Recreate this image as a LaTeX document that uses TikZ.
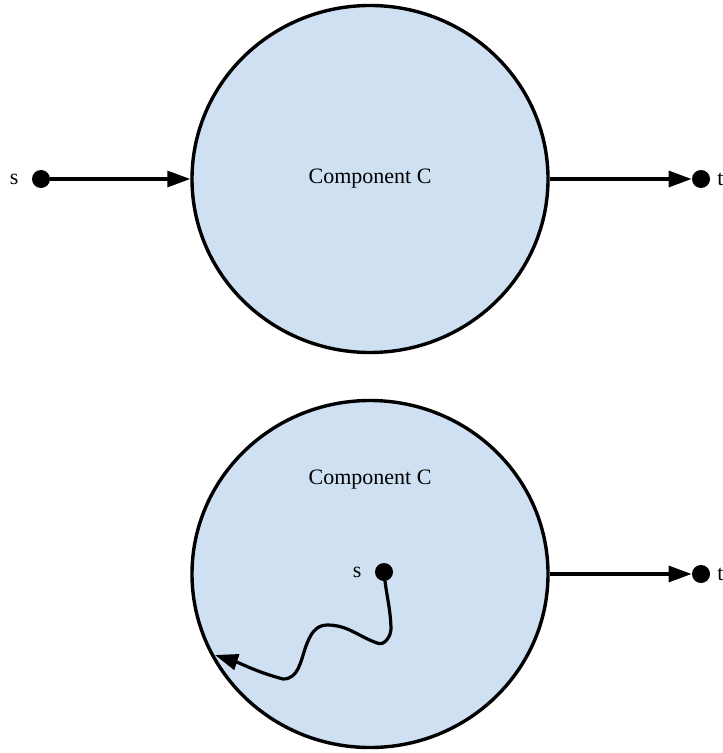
\documentclass[tikz,border=0pt]{standalone}
\usepackage{fontspec}
\setmainfont{Liberation Serif}
\usepackage{tikz}
\usetikzlibrary{arrows.meta, positioning, shapes.geometric}
\usepackage{xcolor}
\definecolor{compblue}{RGB}{206,224,242}
\tikzset{%
	comp/.style={
		ellipse,
		draw,
		line width=1.7pt,
		fill=compblue,
		inner sep=0pt,
		minimum width=178pt,
		minimum height=173.5pt
	},
	dot/.style={
		circle,
		fill=black,
		inner sep=0pt,
		minimum size=9pt
	},
	flow/.style={
		line width=1.6pt,
		-{Triangle[length=11.5pt,width=8pt]}
	},
}

\begin{document}
\begin{tikzpicture}[x=0.5pt,y=-0.5pt,font=\fontsize{11}{13}\selectfont]
			\useasboundingbox (0,0) rectangle (722,753);

			% Draw the first component
			\node[comp] (C1) at (370,179) {Component C};
			\node[dot, label={[label distance=3pt]left:s}] (s1) at (41,179) {};
			\node[dot, label={[label distance=0pt]right:t}] (t1) at (701,179) {};

			% Draw the arrows
			\draw[flow] (s1) -- (C1.west);
			\draw[flow] (C1.east) -- (t1);

			% Draw the second component
			\node[comp] (C2) at (370,574) {};
			\node (lblC2) at (370,480) {Component C};
			\node[dot, label={[label distance=3pt]left:s}] (s2) at (384,572) {};
			\node[dot, label={[label distance=0pt]right:t}] (t2) at (701,574) {};
			\coordinate (hit) at (215,655);

			% Draw the arrows
			\draw[flow] (C2.east) -- (t2);
			\draw[flow] (s2.center) to[out=-85,in=92] (391,628)
				to[out=-88,in=-25] (377,643)
				to[out=160,in=0] (327,625)
				to[out=180,in=70] (306,646)
				to[out=-110,in=0] (283,679)
				to[out=165,in=-18] (hit);

		\end{tikzpicture}
\end{document}
